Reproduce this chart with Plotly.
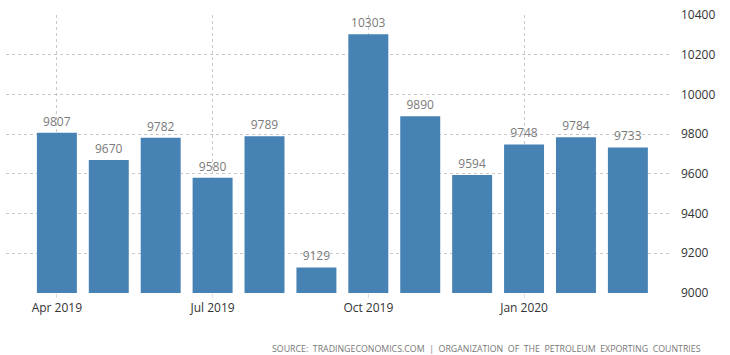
import plotly.graph_objects as go

months = ["2019-04", "2019-05", "2019-06", "2019-07", "2019-08", "2019-09",
          "2019-10", "2019-11", "2019-12", "2020-01", "2020-02", "2020-03"]
values = [9807, 9670, 9782, 9580, 9789, 9129, 10303, 9890, 9594, 9748, 9784, 9733]
tick_months = ["2019-04", "2019-07", "2019-10", "2020-01"]
tick_labels = ["Apr 2019", "Jul 2019", "Oct 2019", "Jan 2020"]
y_ticks = [9000, 9200, 9400, 9600, 9800, 10000, 10200, 10400]
source_words = ["SOURCE:", "TRADINGECONOMICS.COM", "|", "ORGANIZATION", "OF", "THE",
                "PETROLEUM", "EXPORTING", "COUNTRIES"]

fig = go.Figure(go.Bar(
    x=months, y=values,
    marker=dict(color="#4682B4", line=dict(width=0)),
    text=[str(v) for v in values], textposition="outside",
    textfont=dict(color="#7a7a7a", size=12, family="Open Sans"),
    cliponaxis=False,
))

fig.update_layout(
    width=730, height=355,
    margin=dict(l=6, r=58, t=15, b=62),
    paper_bgcolor="white", plot_bgcolor="white",
    bargap=0.23, showlegend=False,
    font=dict(family="Open Sans", color="#333333", size=12),
    xaxis=dict(
        type="category", range=[-0.98, 11.85],
        tickvals=tick_months, ticktext=tick_labels,
        showgrid=True, gridcolor="#c8c8c8", griddash="dot", gridwidth=1,
        ticks="outside", ticklen=4, tickcolor="#dddddd",
        showline=False, zeroline=False,
        tickfont=dict(size=12, color="#333333"),
    ),
    yaxis=dict(
        side="right", range=[9000, 10400], tickvals=y_ticks, tickformat="d",
        showgrid=True, gridcolor="#c8c8c8", griddash="dot", gridwidth=1,
        zeroline=False, showline=False, ticks="", ticklabelstandoff=8,
        tickfont=dict(size=12, color="#333333"),
    ),
)

fig.add_annotation(
    text="\u00a0\u00a0".join(source_words), xref="paper", yref="paper",
    x=1.0465, y=-0.2, xanchor="right", yanchor="middle", showarrow=False,
    font=dict(size=8.8, color="#777777", family="Open Sans"),
)
fig.add_shape(type="line", xref="paper", yref="paper", x0=-0.01, x1=1.09,
              y0=-0.245, y1=-0.245, line=dict(color="#eeeeee", width=1))

fig.write_html("out.html")
